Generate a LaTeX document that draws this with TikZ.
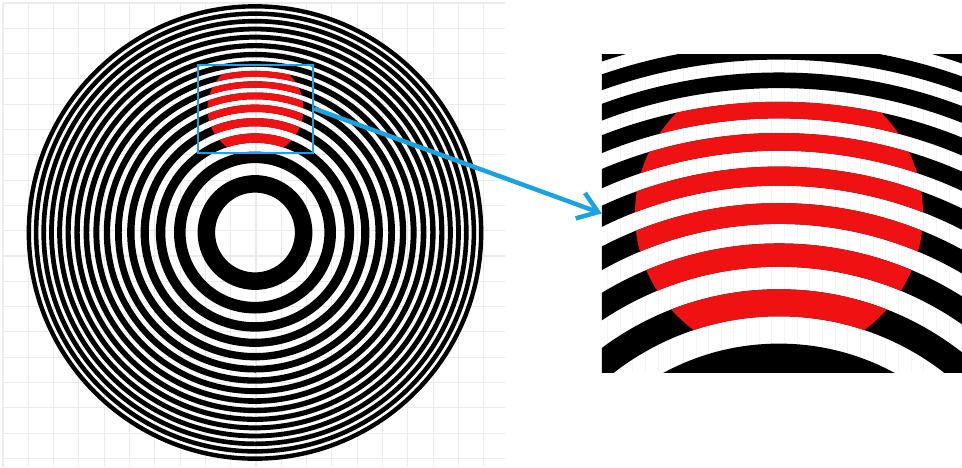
\documentclass[tikz,border=0pt]{standalone}
\usetikzlibrary{arrows.meta}
\definecolor{ink}{HTML}{000000}
\definecolor{beam}{HTML}{F01212}
\definecolor{lens}{HTML}{1BA3E0}
\definecolor{paper}{HTML}{EBEBEB}

\begin{document}
\begin{tikzpicture}[x=1pt,y=-1pt,
  gridline/.style={paper,line width=1.1pt},
  zoombox/.style={draw=lens,line width=2pt,inner sep=0pt,minimum width=115pt,minimum height=88pt},
  pointer/.style={lens,line width=4.5pt,-{Straight Barb[length=19pt,width=27pt]}}]
  \def\rone{40.3}
  \def\bias{0.4}
  \def\zbias{0.2}
  \useasboundingbox (0,0) rectangle (962,467);
  % background grid
  \foreach \g in {0,...,19} \draw[gridline] ({3+25.3*\g},3) -- ({3+25.3*\g},467);
  \foreach \g in {0,...,18} \draw[gridline] (3,{3+25.3*\g}) -- (505,{3+25.3*\g});
  % zone plate
  \coordinate (plate) at (255,232.5);
  \coordinate (spot) at (255.5,108.5);
  \foreach \n in {2,4,...,32}
    \fill[ink,even odd rule] (plate) circle[radius={\rone*sqrt(\n-1)-\bias}] circle[radius={\rone*sqrt(\n)+\bias}];
  \begin{scope}
    \clip (spot) circle[radius=48];
    \foreach \n in {6,8,...,16}
      \fill[beam,even odd rule] (plate) circle[radius={\rone*sqrt(\n-1)-\bias}] circle[radius={\rone*sqrt(\n)+\bias}];
  \end{scope}
  \node[zoombox] (lensbox) at (spot) {};
  % magnified view
  \node[minimum width=360pt,minimum height=317pt,inner sep=0pt] (panel) at (782,213.5) {};
  \begin{scope}
    \clip (panel.south west) rectangle (panel.north east);
    \draw[paper!55,line width=0.5pt,step=12.65] (panel.north west) grid (panel.south east);
    \begin{scope}[shift={(779,586)},scale=3]
      \foreach \n in {2,4,...,32}
        \fill[ink,even odd rule] (0,0) circle[radius={\rone*sqrt(\n-1)-\zbias}] circle[radius={\rone*sqrt(\n)+\zbias}];
      \clip (0,-124) circle[radius=48];
      \foreach \n in {6,8,...,16}
        \fill[beam,even odd rule] (0,0) circle[radius={\rone*sqrt(\n-1)-\zbias}] circle[radius={\rone*sqrt(\n)+\zbias}];
    \end{scope}
  \end{scope}
  \draw[pointer] (lensbox.east) -- (panel.west);
\end{tikzpicture}
\end{document}
